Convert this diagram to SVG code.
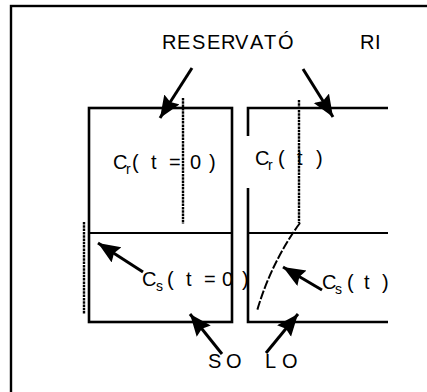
<svg xmlns="http://www.w3.org/2000/svg" width="427" height="392" viewBox="0 0 427 392">
<style>
.t{font-family:"Liberation Sans",Arial,sans-serif;font-size:20px;fill:#000}
.sub{font-size:14px}
.box{stroke:#000;stroke-width:2.6;fill:none}
.mid{stroke:#000;stroke-width:2;fill:none}
.dot{stroke:#000;stroke-width:2.4;stroke-dasharray:2.5 0.8;fill:none}
.dash{stroke:#000;stroke-width:2;stroke-dasharray:9 2;fill:none}
.arr{stroke:#000;stroke-width:3;fill:none;marker-end:url(#ah)}
</style>
<defs>
<marker id="ah" markerUnits="userSpaceOnUse" markerWidth="24" markerHeight="20" refX="22" refY="9" orient="auto">
<path d="M0,0 L22,9 L0,18 L3,9 z" fill="#000"/>
</marker>
</defs>
<rect width="427" height="392" fill="#fff"/>
<g id="frame"><rect x="11" y="6" width="520" height="500" fill="none" stroke="#000" stroke-width="2.4"/></g>
<g id="left-box">
<rect class="box" x="89" y="108" width="143" height="214"/>
<line class="mid" x1="89" y1="233" x2="232" y2="233"/>
<line class="dot" x1="183" y1="98" x2="183" y2="224"/>
<line class="dot" x1="84" y1="222" x2="84" y2="314"/>
<text class="t" x="113" y="169">C</text><text class="t sub" x="126" y="174">r</text>
<text class="t" x="132" y="169">(</text><text class="t" x="151" y="169">t</text><text class="t" x="169" y="169">=</text><text class="t" x="190" y="169">0</text><text class="t" x="209" y="169">)</text>
<text class="t" x="142" y="286">C</text><text class="t sub" x="156" y="291">s</text>
<text class="t" x="167" y="286">(</text><text class="t" x="186" y="286">t</text><text class="t" x="204" y="286">=</text><text class="t" x="222" y="286">0</text><text class="t" x="242" y="286">)</text>
</g>
<g id="right-box">
<polyline class="box" points="248,136 248,108 388,108"/>
<polyline class="box" points="248,188 248,322 388,322"/>
<line class="mid" x1="248" y1="233" x2="388" y2="233"/>
<line class="dot" x1="299" y1="100" x2="299" y2="223"/>
<path class="dash" d="M300,223 L297,227 Q270,266 257,311"/>
<text class="t" x="255" y="165">C</text><text class="t sub" x="268" y="170">r</text>
<text class="t" x="278" y="165">(</text><text class="t" x="297" y="165">t</text><text class="t" x="316" y="165">)</text>
<text class="t" x="322" y="289">C</text><text class="t sub" x="335" y="294">s</text>
<text class="t" x="347" y="289">(</text><text class="t" x="364" y="289">t</text><text class="t" x="382" y="289">)</text>
</g>
<g id="labels">
<text class="t"><tspan x="162" y="49">R</tspan><tspan x="177">E</tspan><tspan x="192">S</tspan><tspan x="207">E</tspan><tspan x="221">R</tspan><tspan x="235">V</tspan><tspan x="250">A</tspan><tspan x="264">T</tspan><tspan x="278">Ó</tspan><tspan x="360">R</tspan><tspan x="375">I</tspan></text>
<text class="t"><tspan x="208" y="368">S</tspan><tspan x="226">O</tspan><tspan x="265">L</tspan><tspan x="282">O</tspan></text>
</g>
<g id="connectors">
<line class="arr" x1="192" y1="68" x2="160" y2="118"/>
<line class="arr" x1="303" y1="69" x2="333" y2="117"/>
<line class="arr" x1="143" y1="272" x2="98" y2="243"/>
<line class="arr" x1="322" y1="290" x2="283" y2="267"/>
<line class="arr" x1="222" y1="354" x2="190" y2="314"/>
<line class="arr" x1="266" y1="353" x2="298" y2="314"/>
</g>
</svg>
